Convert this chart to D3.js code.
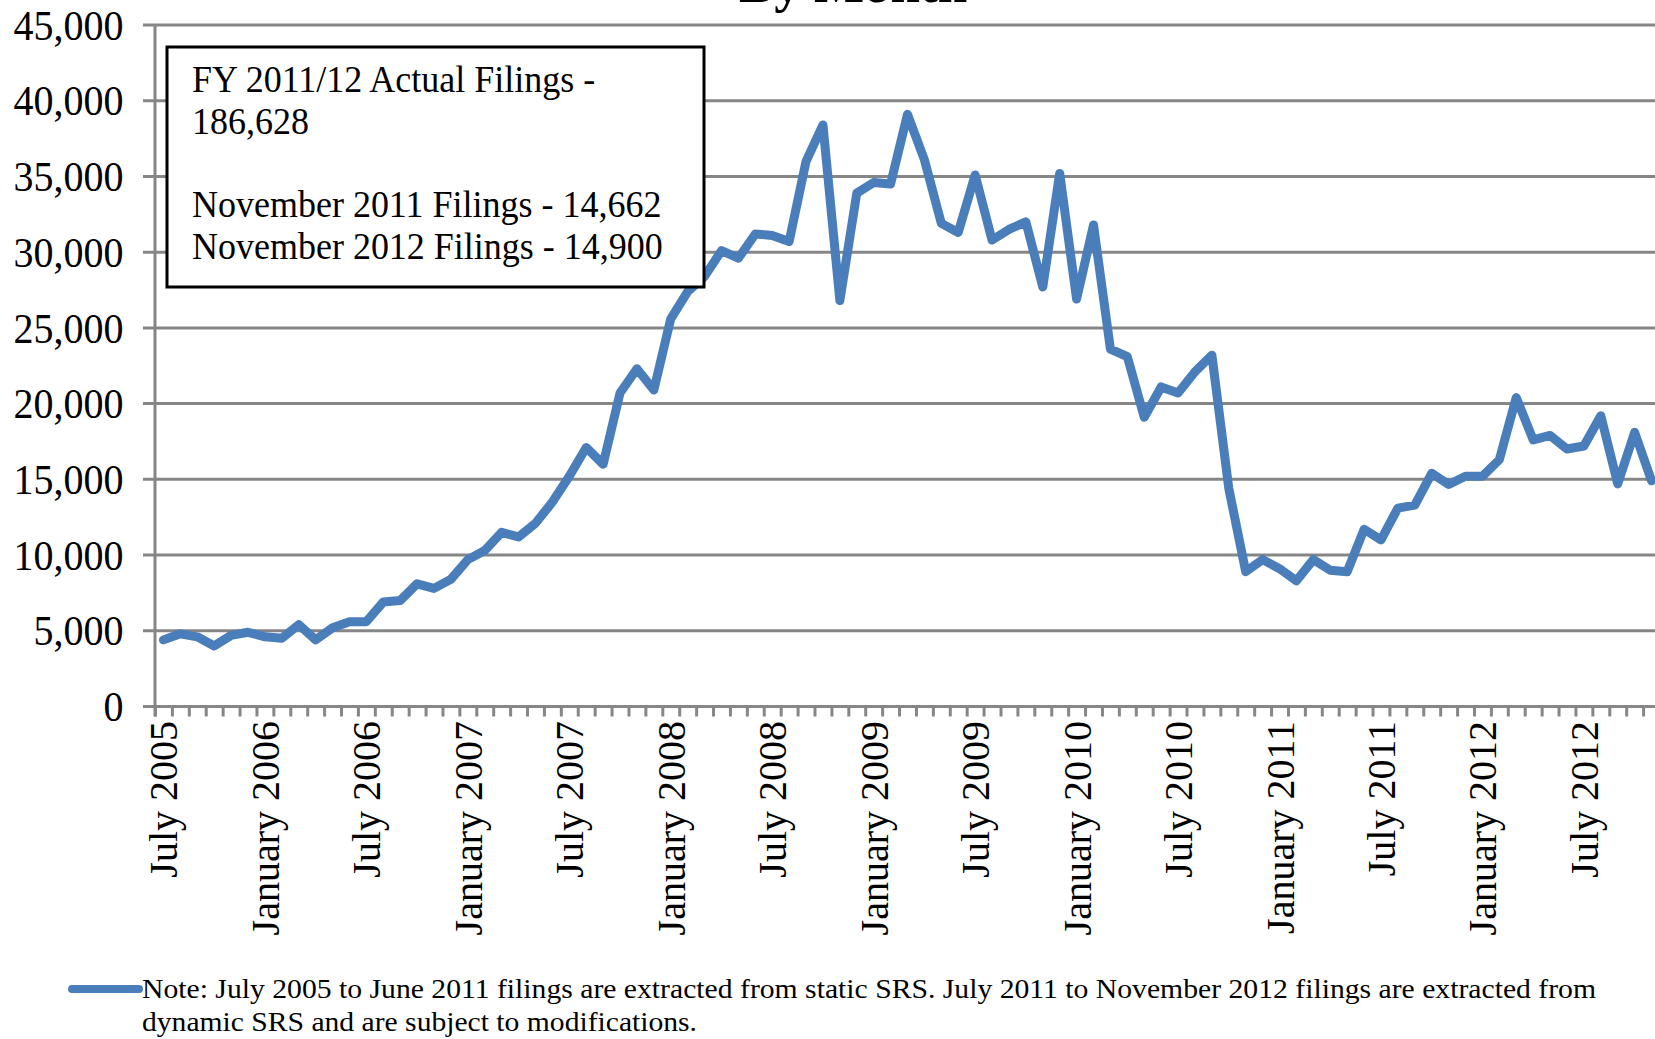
<!DOCTYPE html>
<html>
<head>
<meta charset="utf-8">
<script src="https://cdn.jsdelivr.net/npm/d3@7"></script>
<style>
  html, body { margin: 0; padding: 0; background: #ffffff; }
  svg { display: block; }
  text { font-family: "Liberation Serif", "Times New Roman", serif; fill: #000; }
</style>
</head>
<body>
<svg id="chart" width="1655" height="1039"></svg>
<script>
// ---- data ----
const startMonth = new Date(2005, 6, 1);   // July 2005
const endMonth = new Date(2012, 11, 1);    // exclusive: through November 2012
const categories = d3.timeMonth.range(startMonth, endMonth);

const filings = [
  4400, 4800, 4600, 4000, 4700, 4900, 4600, 4500, 5400, 4400, 5200, 5600,
  5600, 6900, 7000, 8100, 7800, 8400, 9700, 10300, 11500, 11200, 12100, 13500,
  15200, 17100, 16000, 20700, 22300, 20900, 25600, 27400, 28400, 30100, 29600, 31200,
  31100, 30700, 36000, 38400, 26800, 33900, 34600, 34500, 39100, 36100, 31900, 31300,
  35100, 30800, 31500, 32000, 27700, 35200, 26900, 31800, 23600, 23100, 19100, 21100,
  20700, 22100, 23200, 14400, 8900, 9700, 9100, 8300, 9700, 9000, 8900, 11700,
  11000, 13100, 13300, 15400, 14662, 15200, 15200, 16300, 20400, 17600, 17900, 17000,
  17200, 19200, 14700, 18100, 14900
];

const yTicks = [0, 5000, 10000, 15000, 20000, 25000, 30000, 35000, 40000, 45000];
const xTickLabels = [
  "July 2005", "January 2006", "July 2006", "January 2007", "July 2007",
  "January 2008", "July 2008", "January 2009", "July 2009", "January 2010",
  "July 2010", "January 2011", "July 2011", "January 2012", "July 2012"
];
const labelEvery = 6;

const titleText = "By Month";
const boxLines = [
  "FY 2011/12 Actual Filings -",
  "186,628",
  "",
  "November 2011 Filings - 14,662",
  "November 2012 Filings - 14,900"
];
const noteLines = [
  "Note: July 2005 to June 2011 filings are extracted from static SRS. July 2011 to November 2012 filings are extracted from",
  "dynamic SRS and are subject to modifications."
];

// ---- layout ----
const svg = d3.select("#chart");
const plotLeft = 155, plotRight = 1660, plotTop = 25, plotBottom = 706.5;
const gridColor = "#868686";
const lineColor = "#4a7ebb";

const x = d3.scaleLinear().domain([0, categories.length]).range([plotLeft, plotRight]);
const y = d3.scaleLinear().domain([0, 45000]).range([plotBottom, plotTop]);
const fmt = d3.format(",");

// title (cropped at the top edge, as in the original)
svg.append("text")
  .attr("x", 739).attr("y", 2)
  .attr("font-size", 53).attr("font-weight", "bold")
  .text(titleText);

// gridlines + left ticks
svg.append("g").selectAll("line").data(yTicks).join("line")
  .attr("x1", plotLeft - 12).attr("x2", 1655)
  .attr("y1", d => y(d)).attr("y2", d => y(d))
  .attr("stroke", gridColor).attr("stroke-width", 3);

// y axis labels
svg.append("g").selectAll("text").data(yTicks).join("text")
  .attr("transform", d => `translate(123.5,${y(d)}) scale(1,1.08)`)
  .attr("dy", "0.34em")
  .attr("text-anchor", "end")
  .attr("font-size", 40)
  .text(d => fmt(d));

// y axis line
svg.append("line")
  .attr("x1", plotLeft).attr("x2", plotLeft)
  .attr("y1", plotTop).attr("y2", plotBottom + 10)
  .attr("stroke", gridColor).attr("stroke-width", 3);

// x axis ticks (category boundaries)
const xAxis = d3.axisBottom(x)
  .tickValues(d3.range(categories.length + 1))
  .tickFormat("")
  .tickSize(10)
  .tickSizeOuter(0);
const gx = svg.append("g").attr("transform", `translate(0,${plotBottom})`).call(xAxis);
gx.select(".domain").remove();
gx.selectAll(".tick line").attr("stroke", gridColor).attr("stroke-width", 3);

// x axis labels
svg.append("g").selectAll("text").data(xTickLabels).join("text")
  .attr("transform", (d, i) => `translate(${x(i * labelEvery + 0.5)},721) rotate(-90)`)
  .attr("dy", "0.35em")
  .attr("text-anchor", "end")
  .attr("font-size", 40)
  .text(d => d);

// data line
const line = d3.line()
  .x((d, i) => x(i + 0.5))
  .y(d => y(d))
  .curve(d3.curveLinear);
svg.append("path")
  .datum(filings)
  .attr("d", line)
  .attr("fill", "none")
  .attr("stroke", lineColor)
  .attr("stroke-width", 9)
  .attr("stroke-linejoin", "round")
  .attr("stroke-linecap", "round");

// annotation box
const box = svg.append("g");
box.append("rect")
  .attr("x", 167).attr("y", 47).attr("width", 537).attr("height", 240)
  .attr("fill", "#ffffff").attr("stroke", "#000").attr("stroke-width", 3);
box.selectAll("text").data(boxLines).join("text")
  .attr("transform", (d, i) => `translate(192,${92 + i * 41.7}) scale(1,1.08)`)
  .attr("font-size", 36)
  .text(d => d);

// legend / note
svg.append("line")
  .attr("x1", 72).attr("x2", 139).attr("y1", 989).attr("y2", 989)
  .attr("stroke", lineColor).attr("stroke-width", 8).attr("stroke-linecap", "round");
const noteWidths = [1454, 555];
svg.append("g").selectAll("text").data(noteLines).join("text")
  .attr("x", 142)
  .attr("y", (d, i) => 998 + i * 32.5)
  .attr("font-size", 28)
  .attr("textLength", (d, i) => noteWidths[i])
  .attr("lengthAdjust", "spacingAndGlyphs")
  .text(d => d);
</script>
</body>
</html>
